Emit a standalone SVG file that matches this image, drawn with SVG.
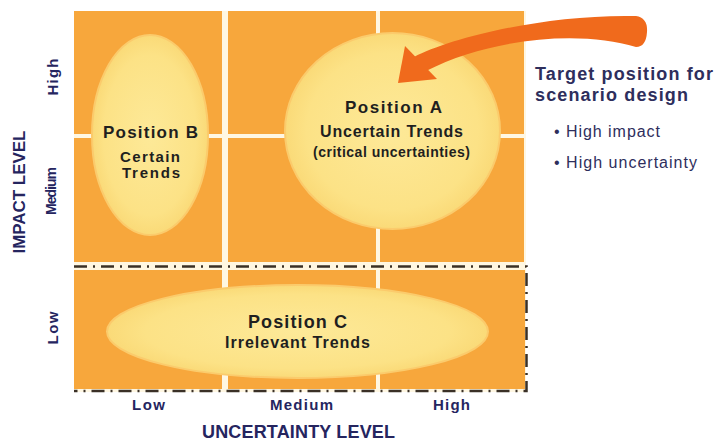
<svg xmlns="http://www.w3.org/2000/svg" width="715" height="442" viewBox="0 0 715 442">
<defs>
<radialGradient id="yel" cx="50%" cy="50%" r="50%">
<stop offset="0" stop-color="#FDE998"/>
<stop offset="0.8" stop-color="#FCE286"/>
<stop offset="1" stop-color="#FADA78"/>
</radialGradient>
<style>
.cell{fill:#F7A73C}
.sep{fill:#FFF7E2}
.ell{fill:url(#yel);stroke:#FBCB6C;stroke-width:2}
.dash{fill:none;stroke:#3A3026;stroke-width:2.5;stroke-dasharray:13 6 2 6}
.nt{font-family:"Liberation Sans",Arial,sans-serif;font-weight:bold;fill:#1F1F1F;text-anchor:middle}
.ax{font-family:"Liberation Sans",Arial,sans-serif;font-weight:bold;fill:#25255F;text-anchor:middle}
.rt{font-family:"Liberation Sans",Arial,sans-serif;fill:#2E2E5C}
</style>
</defs>
<rect width="715" height="442" fill="#FFFFFF"/>
<g id="grid">
<rect class="sep" x="74" y="11" width="452" height="381"/>
<rect class="cell" x="74" y="11" width="148" height="123"/>
<rect class="cell" x="228" y="11" width="148" height="123"/>
<rect class="cell" x="380" y="11" width="144" height="123"/>
<rect class="cell" x="74" y="138" width="148" height="124"/>
<rect class="cell" x="228" y="138" width="148" height="124"/>
<rect class="cell" x="380" y="138" width="144" height="124"/>
<rect class="cell" x="74" y="270" width="148" height="119"/>
<rect class="cell" x="228" y="270" width="148" height="119"/>
<rect class="cell" x="380" y="270" width="145" height="119"/>
<path class="dash" d="M74 266.5 H526.5 V391 H74"/>
</g>
<g id="node-position-b">
<ellipse class="ell" cx="150" cy="135" rx="58" ry="100"/>
<text class="nt" x="150.5" y="138" font-size="17" textLength="95">Position B</text>
<text class="nt" x="150" y="162" font-size="15" textLength="60">Certain</text>
<text class="nt" x="151" y="178" font-size="15" textLength="58">Trends</text>
</g>
<g id="node-position-a">
<ellipse class="ell" cx="392.5" cy="131" rx="107.5" ry="98"/>
<text class="nt" x="393.5" y="113" font-size="17" textLength="97">Position A</text>
<text class="nt" x="391.5" y="137" font-size="16" textLength="143">Uncertain Trends</text>
<text class="nt" x="391.5" y="157" font-size="14" textLength="157">(critical uncertainties)</text>
</g>
<g id="node-position-c">
<ellipse class="ell" cx="297.5" cy="331.5" rx="190.5" ry="46.5"/>
<text class="nt" x="297.5" y="328" font-size="18" textLength="99">Position C</text>
<text class="nt" x="297.5" y="348" font-size="16" textLength="145">Irrelevant Trends</text>
</g>
<g id="connectors">
<path d="M414 57 C450 38,545 14,636 16 Q648 18,647 32 Q646 47,636 47 C580 30,490 38,426 71 Z" fill="#F06A1C"/>
<polygon points="398,83 405,46 437,79" fill="#F06A1C"/>
</g>
<g id="axis-labels">
<text class="ax" font-size="17" textLength="123" transform="translate(25 192) rotate(-90)">IMPACT LEVEL</text>
<text class="ax" font-size="15" textLength="37" transform="translate(58 77) rotate(-90)">High</text>
<text class="ax" font-size="14" textLength="48" transform="translate(56 191) rotate(-90)">Medium</text>
<text class="ax" font-size="15" textLength="33" transform="translate(58 328) rotate(-90)">Low</text>
<text class="ax" x="148.5" y="410" font-size="15" textLength="33">Low</text>
<text class="ax" x="301.5" y="410" font-size="15" textLength="63">Medium</text>
<text class="ax" x="451.5" y="410" font-size="15" textLength="37">High</text>
<text class="ax" x="298.5" y="438" font-size="18" textLength="193" fill="#3A3D6A">UNCERTAINTY LEVEL</text>
</g>
<g id="target-note">
<text class="rt" x="535" y="80" font-size="18" font-weight="bold" textLength="178">Target position for</text>
<text class="rt" x="535" y="101" font-size="18" font-weight="bold" textLength="153">scenario design</text>
<text class="rt" x="554" y="137" font-size="16" fill="#3D4170" textLength="106">• High impact</text>
<text class="rt" x="554" y="168" font-size="16" fill="#3D4170" textLength="143">• High uncertainty</text>
</g>
</svg>
